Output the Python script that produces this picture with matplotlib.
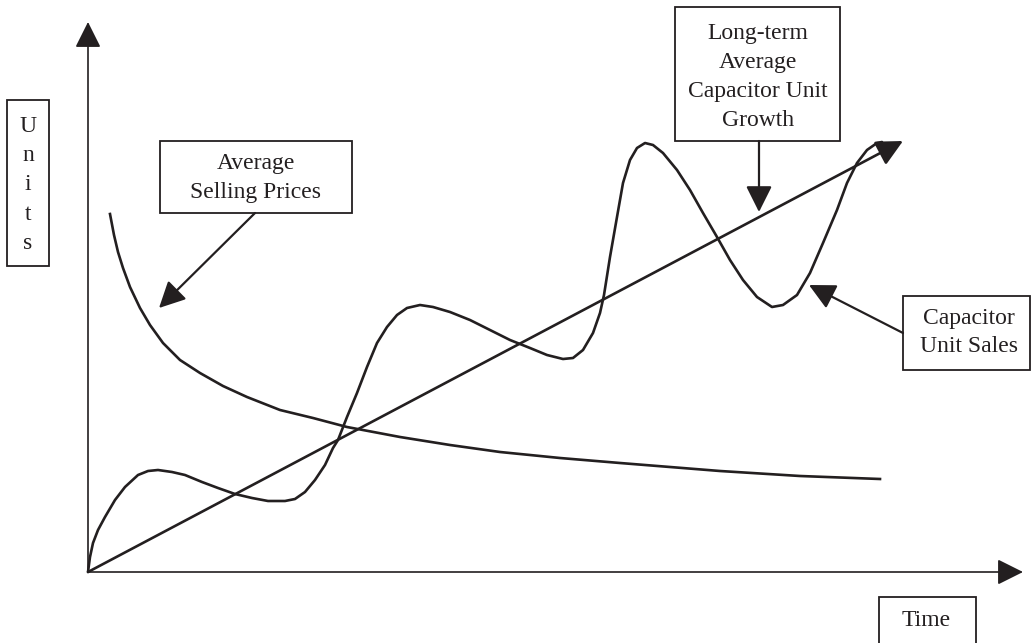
import matplotlib
matplotlib.use("Agg")
import matplotlib.pyplot as plt
from matplotlib.patches import Rectangle

# ---- data (time, units), origin at the axes corner ----
sales_time = [0, 2, 5, 10, 17, 27, 37, 50, 60, 70,
              84, 97, 114, 130, 147, 164, 180, 197, 207, 217,
              227, 237, 245, 250, 259, 269, 279, 289, 299, 309,
              319, 332, 345, 362, 382, 402, 422, 442, 459, 475,
              485, 495, 505, 512, 516, 522, 529, 535, 542, 549,
              557, 565, 575, 589, 602, 615, 629, 642, 655, 669,
              684, 695, 709, 722, 735, 749, 759, 769, 779, 789,
              794]
sales_units = [0, 15, 29, 42, 55, 72, 85, 97, 101, 102,
               100, 97, 90, 84, 78, 74, 71, 71, 73, 80,
               92, 107, 124, 132, 155, 179, 205, 229, 245, 257,
               264, 267, 265, 260, 252, 242, 232, 224, 217, 213,
               214, 222, 239, 259, 277, 315, 355, 389, 412, 424,
               429, 427, 419, 402, 382, 359, 335, 312, 292, 275,
               265, 267, 277, 299, 329, 362, 389, 409, 422, 429,
               430]

price_time = [22, 26, 30, 35, 42, 52, 62, 75, 92, 112, 135, 159, 192, 225,
              259, 312, 362, 412, 472, 532, 632, 712, 792]
price_units = [358, 337, 320, 304, 285, 264, 247, 229, 212, 199, 186, 175,
               162, 154, 145, 135, 127, 120, 114, 109, 101, 96, 93]

growth_time = [0, 815]
growth_units = [0, 431]

INK = "#231f20"
FONT = ["Liberation Serif", "DejaVu Serif"]
FS = 17

fig = plt.figure(figsize=(10.31, 6.43), dpi=100)
ax = fig.add_axes([0, 0, 1, 1])
ox, oy = 88, 572
ax.set_xlim(-ox, 1031 - ox)
ax.set_ylim(oy - 643, oy)
ax.axis("off")


def px(x, y):
    """pixel position -> data position (for layout elements only)"""
    return (x - ox, oy - y)


arrow_kw = dict(arrowstyle="-|>,head_length=0.8,head_width=0.4",
                mutation_scale=20, color=INK, shrinkA=0, shrinkB=0)

# axes with arrow heads
ax.annotate("", xy=px(88, 22), xytext=px(88, 572),
            arrowprops=dict(lw=1.2, **arrow_kw))
ax.annotate("", xy=px(1023, 572), xytext=px(88, 572),
            arrowprops=dict(lw=1.2, **arrow_kw))

# curves
ax.plot(sales_time, sales_units, color=INK, lw=1.9, solid_capstyle="round",
        solid_joinstyle="round")
ax.plot(price_time, price_units, color=INK, lw=1.9, solid_joinstyle="round")
ax.annotate("", xy=(growth_time[1], growth_units[1]),
            xytext=(growth_time[0], growth_units[0]),
            arrowprops=dict(lw=1.9, **arrow_kw))


# label boxes
def box(x0, y0, x1, y1):
    ax.add_patch(Rectangle(px(x0, y1), x1 - x0, y1 - y0, fill=False,
                           ec=INK, lw=1.3, clip_on=False))


def lines(cx, baselines, texts):
    for b, t in zip(baselines, texts):
        ax.text(*px(cx, b), t, ha="center", va="baseline", fontsize=FS,
                family=FONT, color=INK)


box(7, 100, 49, 266)
lines(28, [132, 161, 190, 220, 249], ["U", "n", "i", "t", "s"])

box(160, 141, 352, 213)
lines(256, [169, 198], ["Average", "Selling Prices"])

box(675, 7, 840, 141)
lines(758, [39, 68, 97, 126],
      ["Long-term", "Average", "Capacitor Unit", "Growth"])

box(903, 296, 1030, 370)
lines(969, [324, 352], ["Capacitor", "Unit Sales"])

box(879, 597, 976, 660)
lines(926, [626], ["Time"])

# pointer arrows
ptr = dict(lw=1.6, **arrow_kw)
ax.annotate("", xy=px(159, 308), xytext=px(255, 213), arrowprops=ptr)
ax.annotate("", xy=px(759, 212), xytext=px(759, 141), arrowprops=ptr)
ax.annotate("", xy=px(809, 285), xytext=px(903, 333), arrowprops=ptr)

fig.savefig("out.png", dpi=100, facecolor="white")
